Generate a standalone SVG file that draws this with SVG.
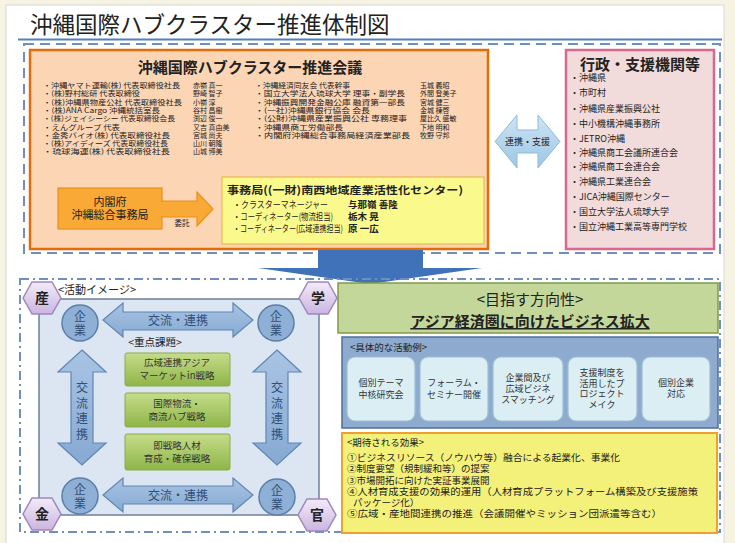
<svg xmlns="http://www.w3.org/2000/svg" width="735" height="543" viewBox="0 0 735 543">
<defs>
<style>
text{font-family:"Noto Sans CJK JP","Noto Sans CJK SC",sans-serif;fill:#222}
.mem{font-size:7px;fill:#333}
.rt{font-size:9px;fill:#444}
.sec{font-size:9.5px;fill:#222}
.c{text-anchor:middle}
.ab{font-size:9px;fill:#333;text-anchor:middle}
.eff{font-size:9.5px;fill:#333}
.hex{stroke:#9f88bd;stroke-width:1.5;fill:url(#gHex)}
.hx{font-size:14px;font-weight:bold;text-anchor:middle;fill:#222}
.ent{fill:#8fb0d6;stroke:#5b7fa8;stroke-width:1.5}
.et{font-size:12px;fill:#2f4f78;text-anchor:middle}
.barr{fill:url(#gArr);stroke:#5f86b3;stroke-width:1.2}
.at{font-size:12px;fill:#2f4f78;text-anchor:middle}
.gbox{fill:url(#gGreen);stroke:#8aab4a;stroke-width:1}
.gt{font-size:9.5px;fill:#333;text-anchor:middle}
.act{fill:#dbeef4;stroke:#9cc0d4;stroke-width:1.2}
</style>
<linearGradient id="gHex" x1="0" y1="0" x2="0" y2="1"><stop offset="0" stop-color="#f3ebf8"/><stop offset="1" stop-color="#cbb5e0"/></linearGradient>
<linearGradient id="gArr" x1="0" y1="0" x2="0" y2="1"><stop offset="0" stop-color="#a9c4e4"/><stop offset="1" stop-color="#86a9d2"/></linearGradient>
<linearGradient id="gLink" x1="0" y1="0" x2="0" y2="1"><stop offset="0" stop-color="#cfe4f3"/><stop offset="1" stop-color="#9cc6e4"/></linearGradient>
<linearGradient id="gGreen" x1="0" y1="0" x2="0" y2="1"><stop offset="0" stop-color="#c5dc8a"/><stop offset="1" stop-color="#8fb548"/></linearGradient>
</defs>

<rect x="0" y="0" width="735" height="543" fill="#f7f3e2"/>
<rect x="6" y="5" width="718" height="540" fill="#ffffff" stroke="#d6d6d6" stroke-width="1"/>

<g id="title">
<text x="30" y="33" font-size="22.5" fill="#222">沖縄国際ハブクラスター推進体制図</text>
<line x1="18" y1="39.5" x2="722" y2="39.5" stroke="#4f81bd" stroke-width="2"/>
</g>

<rect id="topframe" x="24" y="44" width="696" height="209" fill="none" stroke="#6f8fc0" stroke-width="2" stroke-dasharray="10,6"/>

<g id="council">
<rect x="30" y="50" width="458" height="199" fill="#fcd5b4" stroke="#e36c09" stroke-width="2.5"/>
<text x="250" y="73" font-size="15" font-weight="bold" class="c">沖縄国際ハブクラスター推進会議</text>
<g class="mem" lengthAdjust="spacingAndGlyphs">
<text x="43" y="88" textLength="137" lengthAdjust="spacingAndGlyphs">・沖縄ヤマト運輸(株) 代表取締役社長</text><text x="193" y="88">赤嶺 真一</text>
<text x="43" y="96.3" textLength="97" lengthAdjust="spacingAndGlyphs">・(株)野村総研 代表取締役</text><text x="193" y="96.3">野崎 智子</text>
<text x="43" y="104.6" textLength="139" lengthAdjust="spacingAndGlyphs">・(株)沖縄県物産公社 代表取締役社長</text><text x="193" y="104.6">小嶺 淳</text>
<text x="43" y="112.9" textLength="117" lengthAdjust="spacingAndGlyphs">・(株)ANA Cargo 沖縄統括室長</text><text x="193" y="112.9">谷村 昌樹</text>
<text x="43" y="121.2" textLength="132" lengthAdjust="spacingAndGlyphs">・(株)ジェイシーシー 代表取締役会長</text><text x="193" y="121.2">渕辺 俊一</text>
<text x="43" y="129.5" textLength="77" lengthAdjust="spacingAndGlyphs">・えんグループ 代表</text><text x="193" y="129.5">又吉 真由美</text>
<text x="43" y="137.8" textLength="127" lengthAdjust="spacingAndGlyphs">・金秀バイオ(株) 代表取締役社長</text><text x="193" y="137.8">宮城 尚夫</text>
<text x="43" y="146.1" textLength="125" lengthAdjust="spacingAndGlyphs">・(株)アイディーズ 代表取締役社長</text><text x="193" y="146.1">山川 朝隆</text>
<text x="43" y="154.4" textLength="127" lengthAdjust="spacingAndGlyphs">・琉球海運(株) 代表取締役社長</text><text x="193" y="154.4">山城 博美</text>
<text x="255" y="88" textLength="95" lengthAdjust="spacingAndGlyphs">・沖縄経済同友会 代表幹事</text><text x="420" y="88">玉城 義昭</text>
<text x="255" y="96.3" textLength="150" lengthAdjust="spacingAndGlyphs">・国立大学法人琉球大学 理事・副学長</text><text x="420" y="96.3">外間 登美子</text>
<text x="255" y="104.6" textLength="150" lengthAdjust="spacingAndGlyphs">・沖縄振興開発金融公庫 融資第一部長</text><text x="420" y="104.6">宮城 健三</text>
<text x="255" y="112.9" textLength="115" lengthAdjust="spacingAndGlyphs">・(一社)沖縄県銀行協会 会長</text><text x="420" y="112.9">金城 棟啓</text>
<text x="255" y="121.2" textLength="152" lengthAdjust="spacingAndGlyphs">・(公財)沖縄県産業振興公社 専務理事</text><text x="420" y="121.2">屋比久 盛敏</text>
<text x="255" y="129.5" textLength="88" lengthAdjust="spacingAndGlyphs">・沖縄県商工労働部長</text><text x="420" y="129.5">下地 明和</text>
<text x="255" y="137.8" textLength="155" lengthAdjust="spacingAndGlyphs">・内閣府沖縄総合事務局経済産業部長</text><text x="420" y="137.8">牧野 守邦</text>
</g>
</g>

<g id="cabinet">
<rect x="58" y="188" width="104" height="41" fill="#f9a935" stroke="#e8921c" stroke-width="1.2"/>
<polygon points="162,201 197,201 197,192 213,209 197,226 197,217 162,217" fill="#f9a935" stroke="#e8921c" stroke-width="1.2"/>
<rect x="160" y="202" width="4" height="14" fill="#f9a935"/>
<text x="110" y="206" font-size="11" class="c" fill="#5a3a10">内閣府</text>
<text x="110" y="219" font-size="11" class="c" fill="#5a3a10">沖縄総合事務局</text>
<text x="182" y="226" font-size="7.5" class="c" fill="#444">委託</text>
</g>

<g id="secretariat">
<rect x="222" y="177" width="262" height="67" fill="#fafa8c" stroke="#e8b040" stroke-width="1"/>
<text x="227" y="194" font-size="10.6" font-weight="bold" textLength="236" lengthAdjust="spacingAndGlyphs">事務局((一財)南西地域産業活性化センター)</text>
<text x="233" y="208" class="sec" textLength="95" lengthAdjust="spacingAndGlyphs">・クラスターマネージャー</text><text x="348" y="208" class="sec" font-weight="bold">与那嶺 善隆</text>
<text x="233" y="220" class="sec" textLength="100" lengthAdjust="spacingAndGlyphs">・コーディネーター(物流担当)</text><text x="348" y="220" class="sec" font-weight="bold">栃木 晃</text>
<text x="233" y="232" class="sec" textLength="110" lengthAdjust="spacingAndGlyphs">・コーディネーター(広域連携担当)</text><text x="348" y="232" class="sec" font-weight="bold">原 一広</text>
</g>

<g id="support">
<rect x="566" y="50" width="148" height="199" fill="#f2dcdb" stroke="#d9678e" stroke-width="2.5"/>
<text x="640" y="70" font-size="15" font-weight="bold" class="c">行政・支援機関等</text>
<g class="rt">
<text x="570" y="81">・沖縄県</text>
<text x="570" y="96">・市町村</text>
<text x="570" y="112">・沖縄県産業振興公社</text>
<text x="570" y="127">・中小機構沖縄事務所</text>
<text x="570" y="142">・JETRO沖縄</text>
<text x="570" y="156">・沖縄県商工会議所連合会</text>
<text x="570" y="170">・沖縄県商工会連合会</text>
<text x="570" y="185">・沖縄県工業連合会</text>
<text x="570" y="200">・JICA沖縄国際センター</text>
<text x="570" y="215">・国立大学法人琉球大学</text>
<text x="570" y="230">・国立沖縄工業高等専門学校</text>
</g>
</g>

<g id="connectors">
<polygon points="495,141.5 517,115 517,130 538,130 538,115 560,141.5 538,168 538,153 517,153 517,168" fill="url(#gLink)" stroke="#8dbbe0" stroke-width="1"/>
<text x="527.5" y="145" font-size="9" class="c" fill="#333">連携・支援</text>
<polygon points="318,250 423,250 423,268 482,268 370,284 258,268 318,268" fill="#3f72b8"/>
</g>

<rect id="lowframe" x="20" y="279" width="700" height="253" fill="none" stroke="#6f8fc0" stroke-width="2" stroke-dasharray="9,4,2,4"/>

<g id="activity">
<rect x="39" y="299" width="280" height="216" fill="#dce6f2" stroke="#6f7f98" stroke-width="1.5"/>
<text x="58" y="294" font-size="11" fill="#6b7f98">&lt;活動イメージ&gt;</text>
<g id="arrows-h">
<polygon class="barr" points="103,320 123,303 123,312 233,312 233,303 253,320 233,337 233,330 123,330 123,337"/>
<text x="178" y="325" class="at">交流・連携</text>
<polygon class="barr" points="103,495 123,478 123,486 233,486 233,478 253,495 233,512 233,504 123,504 123,512"/>
<text x="178" y="500" class="at">交流・連携</text>
</g>
<g id="arrows-v">
<polygon class="barr" points="82,350 106,372 93,372 93,443 106,443 82,465 58,443 71,443 71,372 58,372"/>
<text x="82" y="392" class="at" font-size="14">交</text>
<text x="82" y="408" class="at" font-size="14">流</text>
<text x="82" y="423" class="at" font-size="14">連</text>
<text x="82" y="439" class="at" font-size="14">携</text>
<polygon class="barr" points="277,350 301,372 288,372 288,443 301,443 277,465 253,443 266,443 266,372 253,372"/>
<text x="277" y="392" class="at" font-size="14">交</text>
<text x="277" y="408" class="at" font-size="14">流</text>
<text x="277" y="423" class="at" font-size="14">連</text>
<text x="277" y="439" class="at" font-size="14">携</text>
</g>
<g id="firm-tl"><circle class="ent" cx="80" cy="323" r="18"/><text x="80" y="321" class="et">企</text><text x="80" y="335" class="et">業</text></g>
<g id="firm-tr"><circle class="ent" cx="276" cy="323" r="18"/><text x="276" y="321" class="et">企</text><text x="276" y="335" class="et">業</text></g>
<g id="firm-bl"><circle class="ent" cx="80" cy="496" r="18"/><text x="80" y="494" class="et">企</text><text x="80" y="508" class="et">業</text></g>
<g id="firm-br"><circle class="ent" cx="277" cy="497" r="18"/><text x="277" y="495" class="et">企</text><text x="277" y="509" class="et">業</text></g>
<text x="155" y="346" font-size="10.5" class="c" fill="#333">&lt;重点課題&gt;</text>
<g id="issue1"><rect class="gbox" x="125" y="353" width="105" height="33" rx="2"/><text x="177" y="366" class="gt">広域連携アジア</text><text x="177" y="379" class="gt">マーケットin戦略</text></g>
<g id="issue2"><rect class="gbox" x="125" y="393" width="105" height="34" rx="2"/><text x="177" y="407" class="gt">国際物流・</text><text x="177" y="420" class="gt">商流ハブ戦略</text></g>
<g id="issue3"><rect class="gbox" x="125" y="434" width="105" height="36" rx="2"/><text x="177" y="449" class="gt">即戦略人材</text><text x="177" y="462" class="gt">育成・確保戦略</text></g>
<g id="hex-san"><polygon class="hex" points="23,298 32,282 52,282 61,298 52,314 32,314"/><text x="42" y="303" class="hx">産</text></g>
<g id="hex-gaku"><polygon class="hex" points="299,298 308,282 328,282 337,298 328,314 308,314"/><text x="318" y="303" class="hx">学</text></g>
<g id="hex-kin"><polygon class="hex" points="23,514 32,498 52,498 61,514 52,530 32,530"/><text x="42" y="519" class="hx">金</text></g>
<g id="hex-kan"><polygon class="hex" points="298,515 307,499 327,499 336,515 327,531 307,531"/><text x="317" y="520" class="hx">官</text></g>
</g>

<g id="direction">
<rect x="338" y="283" width="380" height="50" fill="#c4d79b" stroke="#7f9a48" stroke-width="1.5"/>
<text x="530" y="305" font-size="15" class="c" fill="#222">&lt;目指す方向性&gt;</text>
<text x="530" y="327" font-size="15" font-weight="bold" class="c" fill="#222" text-decoration="underline">アジア経済圏に向けたビジネス拡大</text>
</g>

<g id="examples">
<rect x="342" y="337" width="376" height="91" fill="#8eaacf" stroke="#4f6f9a" stroke-width="1.5"/>
<text x="350" y="351" font-size="9.5" fill="#e8eef8">&lt;具体的な活動例&gt;</text>
<g id="ex1"><rect class="act" x="347" y="357" width="68" height="64" rx="8"/><text x="381" y="386" class="ab">個別テーマ</text><text x="381" y="398" class="ab">中核研究会</text></g>
<g id="ex2"><rect class="act" x="420" y="357" width="68" height="64" rx="8"/><text x="454" y="386" class="ab">フォーラム・</text><text x="454" y="398" class="ab">セミナー開催</text></g>
<g id="ex3"><rect class="act" x="493" y="357" width="70" height="64" rx="8"/><text x="528" y="381" class="ab">企業間及び</text><text x="528" y="392" class="ab">広域ビジネ</text><text x="528" y="403" class="ab">スマッチング</text></g>
<g id="ex4"><rect class="act" x="568" y="357" width="69" height="64" rx="8"/><text x="602" y="376" class="ab">支援制度を</text><text x="602" y="387" class="ab">活用したプ</text><text x="602" y="397" class="ab">ロジェクト</text><text x="602" y="408" class="ab">メイク</text></g>
<g id="ex5"><rect class="act" x="642" y="357" width="68" height="64" rx="8"/><text x="676" y="386" class="ab">個別企業</text><text x="676" y="397" class="ab">対応</text></g>
</g>

<g id="effects">
<rect x="342" y="433" width="375" height="100" fill="#f3f17a" stroke="#f0a030" stroke-width="2"/>
<g class="eff">
<text x="347" y="446">&lt;期待される効果&gt;</text>
<text x="347" y="461" textLength="273" lengthAdjust="spacingAndGlyphs">①ビジネスリソース（ノウハウ等）融合による起業化、事業化</text>
<text x="347" y="472">②制度要望（規制緩和等）の提案</text>
<text x="347" y="484">③市場開拓に向けた実証事業展開</text>
<text x="347" y="495" textLength="351" lengthAdjust="spacingAndGlyphs">④人材育成支援の効果的運用（人材育成プラットフォーム構築及び支援施策</text>
<text x="353" y="506">パッケージ化）</text>
<text x="347" y="517" textLength="315" lengthAdjust="spacingAndGlyphs">⑤広域・産地間連携の推進（会議開催やミッション団派遣等含む）</text>
</g>
</g>
</svg>
